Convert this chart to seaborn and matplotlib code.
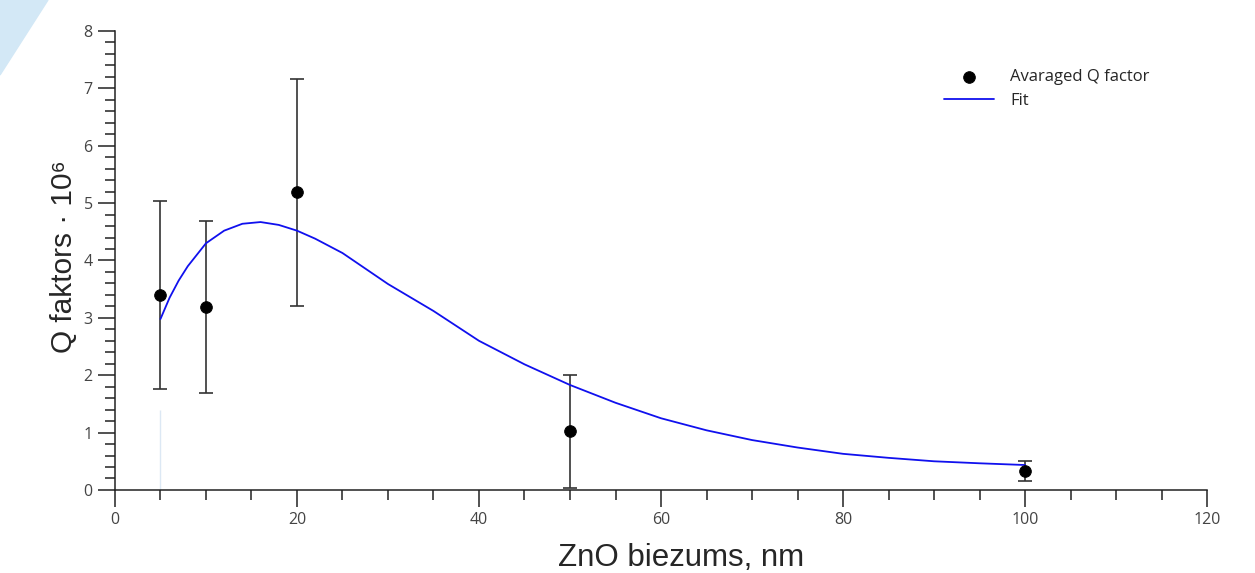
import numpy as np
import pandas as pd
import matplotlib
matplotlib.use('Agg')
import matplotlib.pyplot as plt
import seaborn as sns
from matplotlib.ticker import MultipleLocator
from matplotlib.patches import Polygon

# Measured points
thickness = [5, 10, 20, 50, 100]
q_factor = [3.40, 3.19, 5.19, 1.02, 0.33]
q_err = [1.64, 1.50, 1.98, 0.98, 0.18]

# Fit curve
fit_x = [5, 6, 7, 8, 9, 10, 12, 14, 16, 18, 20, 22, 25, 30, 35, 40, 45, 50,
         55, 60, 65, 70, 75, 80, 85, 90, 95, 100]
fit_y = [2.98, 3.35, 3.65, 3.90, 4.10, 4.30, 4.52, 4.64, 4.67, 4.62, 4.52, 4.38,
         4.13, 3.59, 3.12, 2.60, 2.19, 1.83, 1.52, 1.25, 1.04, 0.87, 0.74, 0.63,
         0.56, 0.50, 0.465, 0.435]

df_pts = pd.DataFrame({'x': thickness, 'y': q_factor, 'err': q_err})
df_fit = pd.DataFrame({'x': fit_x, 'y': fit_y})

sns.set_style("ticks")
tick_font = ['Open Sans', 'DejaVu Sans']
label_font = ['Liberation Sans', 'DejaVu Sans']
plt.rcParams['font.family'] = tick_font

fig = plt.figure(figsize=(12.55, 5.73), dpi=100)
ax = fig.add_axes([0.0916, 0.1449, 0.8702, 0.8010])

# decorative corner
fig.patches.append(Polygon([[0, 1], [48 / 1255, 1], [0, 1 - 75 / 573]], closed=True,
                           transform=fig.transFigure, color='#d3e8f6', zorder=0))

# faint guide line at first point
ax.vlines(thickness[0], 0, 1.4, color='#dce8f4', lw=1, zorder=1)

ax.errorbar(df_pts['x'], df_pts['y'], yerr=df_pts['err'], fmt='none',
            ecolor='#333333', elinewidth=1.2, capsize=5, capthick=1.2, zorder=2)
sns.lineplot(data=df_fit, x='x', y='y', color='#1010ee', lw=1.3, sort=False,
             estimator=None, ax=ax, label='Fit', zorder=3)
sns.scatterplot(data=df_pts, x='x', y='y', color='black', s=70, edgecolor='black',
                ax=ax, label='Avaraged Q factor', zorder=4)

ax.set_xlim(0, 120)
ax.set_ylim(0, 8)
ax.xaxis.set_major_locator(MultipleLocator(20))
ax.xaxis.set_minor_locator(MultipleLocator(5))
ax.yaxis.set_major_locator(MultipleLocator(1))
ax.yaxis.set_minor_locator(MultipleLocator(0.2))
ax.tick_params(which='major', length=12, width=1.1, color='#222222',
               labelsize=11.5, labelcolor='#444444', pad=4)
ax.tick_params(which='minor', length=7, width=1.1, color='#222222')
for s in ['top', 'right']:
    ax.spines[s].set_visible(False)
for s in ['left', 'bottom']:
    ax.spines[s].set_linewidth(1.1)
    ax.spines[s].set_color('#222222')

ax.set_xlabel('ZnO biezums, nm', fontsize=22.5, family=label_font, labelpad=11)
ax.xaxis.label.set_x(0.518)
ax.set_ylabel('Q faktors · 10⁶', fontsize=21.5, family=label_font, labelpad=4)
ax.yaxis.label.set_y(0.508)

handles, labels = ax.get_legend_handles_labels()
order = [labels.index('Avaraged Q factor'), labels.index('Fit')]
leg = ax.legend([handles[i] for i in order], [labels[i] for i in order],
                loc='upper left', bbox_to_anchor=(0.745, 0.95), frameon=False,
                fontsize=12, handlelength=3.0, labelspacing=0.5, handletextpad=1.0)

fig.savefig('out.png', dpi=100)
